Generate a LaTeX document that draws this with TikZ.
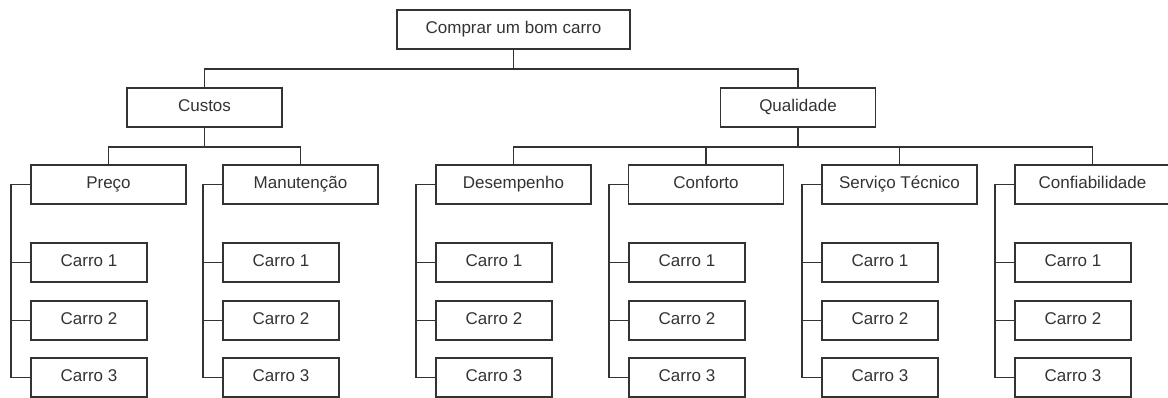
\documentclass[tikz,border=0pt]{standalone}
\usepackage{fontspec}
\setmainfont{Liberation Sans}
\usepackage{xcolor}
\definecolor{linegray}{HTML}{333333}

\begin{document}
\begin{tikzpicture}[x=1pt, y=-1pt,
	box/.style={shape=rectangle, draw=linegray, line width=1.9pt, text=linegray, font=\fontsize{17}{20}\selectfont, inner sep=0pt, text height=12.5pt, text depth=4.1pt, minimum height=39pt},
	rootbox/.style={box, minimum width=233pt},
	critbox/.style={box, minimum width=155pt},
	carbox/.style={box, minimum width=116pt},
	wire/.style={draw=linegray, line width=1.9pt}]
	\useasboundingbox (0, 0) rectangle (1168, 398);
	% Goal and criteria:
	\node[rootbox] (comprar) at (513.5, 29.5){Comprar um bom carro};
	\node[critbox] (custos) at (204.5, 107.5){Custos};
	\node[critbox] (qualidade) at (798, 107.5){Qualidade};
	% Sub-criteria:
	\node[critbox] (preco) at (108.5, 184.5){Preço};
	\node[critbox] (manut) at (300.5, 184.5){Manutenção};
	\node[critbox] (desemp) at (513.5, 184.5){Desempenho};
	\node[critbox] (conforto) at (706, 184.5){Conforto};
	\node[critbox] (servico) at (899.5, 184.5){Serviço Técnico};
	\node[critbox] (confiab) at (1092.5, 184.5){Confiabilidade};
	% Alternatives:
	\node[carbox] (preco1) at (89, 262.5){Carro 1};
	\node[carbox] (preco2) at (89, 320.5){Carro 2};
	\node[carbox] (preco3) at (89, 377.5){Carro 3};
	\node[carbox] (manut1) at (281, 262.5){Carro 1};
	\node[carbox] (manut2) at (281, 320.5){Carro 2};
	\node[carbox] (manut3) at (281, 377.5){Carro 3};
	\node[carbox] (desemp1) at (494, 262.5){Carro 1};
	\node[carbox] (desemp2) at (494, 320.5){Carro 2};
	\node[carbox] (desemp3) at (494, 377.5){Carro 3};
	\node[carbox] (conforto1) at (687, 262.5){Carro 1};
	\node[carbox] (conforto2) at (687, 320.5){Carro 2};
	\node[carbox] (conforto3) at (687, 377.5){Carro 3};
	\node[carbox] (servico1) at (880, 262.5){Carro 1};
	\node[carbox] (servico2) at (880, 320.5){Carro 2};
	\node[carbox] (servico3) at (880, 377.5){Carro 3};
	\node[carbox] (confiab1) at (1073, 262.5){Carro 1};
	\node[carbox] (confiab2) at (1073, 320.5){Carro 2};
	\node[carbox] (confiab3) at (1073, 377.5){Carro 3};
	% Tree wires:
	\draw[wire] (comprar.south) -- ++(0, 19) -| (custos.north);
	\draw[wire] (comprar.south) -- ++(0, 19) -| (qualidade.north);
	\draw[wire] (custos.south) -- ++(0, 19) -| (preco.north);
	\draw[wire] (custos.south) -- ++(0, 19) -| (manut.north);
	\draw[wire] (qualidade.south) -- ++(0, 19) -| (desemp.north);
	\draw[wire] (qualidade.south) -- ++(0, 19) -| (conforto.north);
	\draw[wire] (qualidade.south) -- ++(0, 19) -| (servico.north);
	\draw[wire] (qualidade.south) -- ++(0, 19) -| (confiab.north);
	% Side spines:
	\draw[wire] (preco.west) -- ++(-19, 0) |- (preco3.west);
	\draw[wire] (preco.west) -- ++(-19, 0) |- (preco1.west);
	\draw[wire] (preco.west) -- ++(-19, 0) |- (preco2.west);
	\draw[wire] (manut.west) -- ++(-19, 0) |- (manut3.west);
	\draw[wire] (manut.west) -- ++(-19, 0) |- (manut1.west);
	\draw[wire] (manut.west) -- ++(-19, 0) |- (manut2.west);
	\draw[wire] (desemp.west) -- ++(-19, 0) |- (desemp3.west);
	\draw[wire] (desemp.west) -- ++(-19, 0) |- (desemp1.west);
	\draw[wire] (desemp.west) -- ++(-19, 0) |- (desemp2.west);
	\draw[wire] (conforto.west) -- ++(-19, 0) |- (conforto3.west);
	\draw[wire] (conforto.west) -- ++(-19, 0) |- (conforto1.west);
	\draw[wire] (conforto.west) -- ++(-19, 0) |- (conforto2.west);
	\draw[wire] (servico.west) -- ++(-19, 0) |- (servico3.west);
	\draw[wire] (servico.west) -- ++(-19, 0) |- (servico1.west);
	\draw[wire] (servico.west) -- ++(-19, 0) |- (servico2.west);
	\draw[wire] (confiab.west) -- ++(-19, 0) |- (confiab3.west);
	\draw[wire] (confiab.west) -- ++(-19, 0) |- (confiab1.west);
	\draw[wire] (confiab.west) -- ++(-19, 0) |- (confiab2.west);
\end{tikzpicture}
\end{document}
